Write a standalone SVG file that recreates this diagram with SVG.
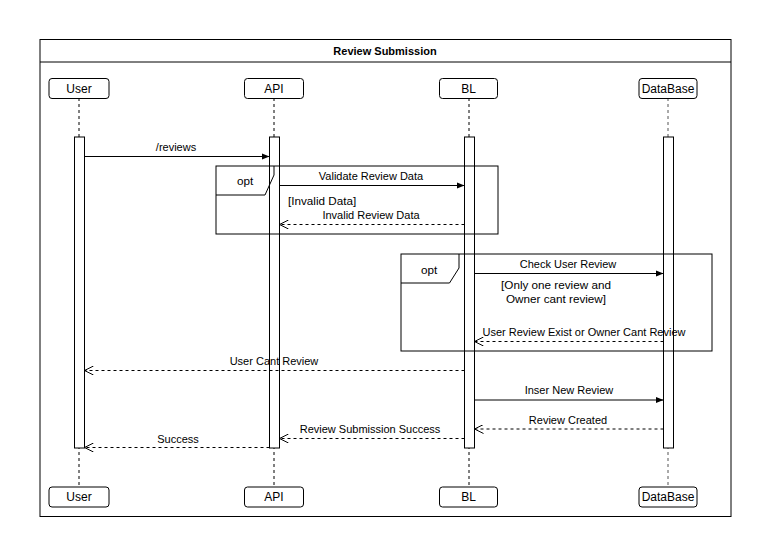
<svg xmlns="http://www.w3.org/2000/svg" width="769" height="538" viewBox="0 0 769 538">
<style>
text{font-family:"Liberation Sans",Arial,sans-serif;fill:#000}
.lbl{font-size:11px;text-anchor:middle}
.pt{font-size:12px;text-anchor:middle}
.grd{font-size:11.7px}
.box{fill:#fff;stroke:#000;stroke-width:1}
.life{stroke:#000;stroke-dasharray:3,3;fill:none}
.act{fill:#fff;stroke:#000}
.msg{stroke:#000;fill:none}
.ret{stroke:#000;fill:none;stroke-dasharray:3,3}
.frame{fill:none;stroke:#000}
</style>
<defs>
<marker id="fill" viewBox="0 0 10 10" refX="10" refY="5" markerWidth="8" markerHeight="8" markerUnits="userSpaceOnUse" orient="auto"><path d="M0,1 L10,5 L0,9 Z" fill="#000"/></marker>
<marker id="open" viewBox="0 0 10 10" refX="10" refY="5" markerWidth="9" markerHeight="9" markerUnits="userSpaceOnUse" orient="auto"><path d="M0,0 L10,5 L0,10" fill="none" stroke="#000" stroke-width="1.1"/></marker>
</defs>
<rect width="769" height="538" fill="#fff"/>
<g id="frame">
<rect class="frame" x="40" y="39.5" width="691" height="477"/>
<line class="frame" x1="40" y1="62" x2="731" y2="62"/>
<text x="385" y="55" style="font-size:11px;font-weight:bold;text-anchor:middle">Review Submission</text>
</g>
<g id="lifelines">
<line class="life" x1="79" y1="98" x2="79" y2="487"/>
<line class="life" x1="274" y1="98" x2="274" y2="487"/>
<line class="life" x1="469" y1="98" x2="469" y2="487"/>
<line class="life" x1="668" y1="98" x2="668" y2="487" style="stroke:#555"/>
</g>
<g id="user">
<rect class="box" x="49" y="78.5" width="60" height="20" rx="3"/>
<text class="pt" x="79" y="92.5">User</text>
<rect class="act" x="74.5" y="137" width="10" height="311"/>
<rect class="box" x="49" y="487" width="60" height="20" rx="3"/>
<text class="pt" x="79" y="501">User</text>
</g>
<g id="api">
<rect class="box" x="244.5" y="78.5" width="59" height="20" rx="3"/>
<text class="pt" x="274" y="92.5">API</text>
<rect class="act" x="269.5" y="137" width="10" height="311"/>
<rect class="box" x="244.5" y="487" width="59" height="20" rx="3"/>
<text class="pt" x="274" y="501">API</text>
</g>
<g id="bl">
<rect class="box" x="439.5" y="78.5" width="58" height="20" rx="3"/>
<text class="pt" x="468.5" y="92.5">BL</text>
<rect class="act" x="464.5" y="137" width="10" height="311"/>
<rect class="box" x="439.5" y="487" width="58" height="20" rx="3"/>
<text class="pt" x="468.5" y="501">BL</text>
</g>
<g id="database">
<rect class="box" x="639" y="78.5" width="58" height="20" rx="3"/>
<text class="pt" x="668" y="92.5">DataBase</text>
<rect class="act" x="663.5" y="137" width="10" height="311"/>
<rect class="box" x="639" y="487" width="58" height="20" rx="3"/>
<text class="pt" x="668" y="501">DataBase</text>
</g>
<g id="opt1">
<rect class="frame" x="216" y="166" width="282" height="68"/>
<path class="frame" d="M216,195 H265 L274,175 V166"/>
<text class="grd" x="245" y="184.5" style="text-anchor:middle">opt</text>
<text class="grd" x="288" y="205">[Invalid Data]</text>
</g>
<g id="opt2">
<rect class="frame" x="401" y="254" width="311" height="97"/>
<path class="frame" d="M401,283 H449.5 L459,268 V254"/>
<text class="grd" x="429" y="273.5" style="text-anchor:middle">opt</text>
<text class="grd" x="556" y="289" style="text-anchor:middle">[Only one review and</text>
<text class="grd" x="556" y="302.5" style="text-anchor:middle">Owner cant review]</text>
</g>
<g id="connectors">
<line class="msg" x1="84.5" y1="156.5" x2="269.5" y2="156.5" marker-end="url(#fill)"/>
<text class="lbl" x="176" y="151">/reviews</text>
<line class="msg" x1="279.5" y1="185.5" x2="464.5" y2="185.5" marker-end="url(#fill)"/>
<text class="lbl" x="371" y="180">Validate Review Data</text>
<line class="ret" x1="464.5" y1="224.5" x2="279.5" y2="224.5" marker-end="url(#open)"/>
<text class="lbl" x="371" y="219">Invalid Review Data</text>
<line class="msg" x1="474.5" y1="273.5" x2="663.5" y2="273.5" marker-end="url(#fill)"/>
<text class="lbl" x="568" y="268">Check User Review</text>
<line class="ret" x1="663.5" y1="341.5" x2="474.5" y2="341.5" marker-end="url(#open)"/>
<text class="lbl" x="584" y="336">User Review Exist or Owner Cant Review</text>
<line class="ret" x1="464.5" y1="370.5" x2="84.5" y2="370.5" marker-end="url(#open)"/>
<text class="lbl" x="274" y="365">User Cant Review</text>
<line class="msg" x1="474.5" y1="400" x2="663.5" y2="400" marker-end="url(#fill)"/>
<text class="lbl" x="569" y="394">Inser New Review</text>
<line class="ret" x1="663.5" y1="429" x2="474.5" y2="429" marker-end="url(#open)"/>
<text class="lbl" x="568" y="424">Review Created</text>
<line class="ret" x1="464.5" y1="438.5" x2="279.5" y2="438.5" marker-end="url(#open)"/>
<text class="lbl" x="370" y="433">Review Submission Success</text>
<line class="ret" x1="269.5" y1="447.5" x2="84.5" y2="447.5" marker-end="url(#open)"/>
<text class="lbl" x="178" y="442.5">Success</text>
</g>
</svg>
